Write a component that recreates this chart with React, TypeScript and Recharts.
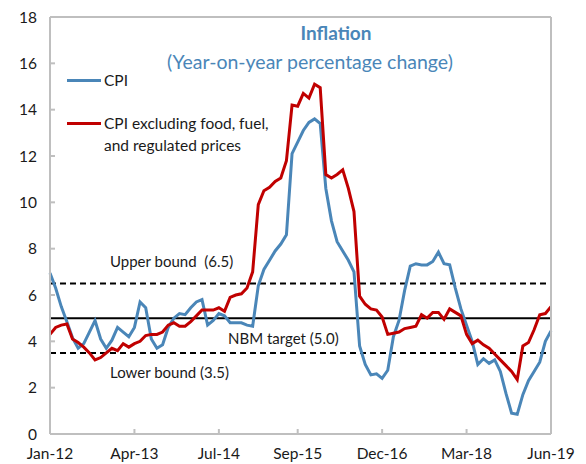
import { LineChart, Line, XAxis, YAxis, ReferenceLine } from "recharts";

// Monthly observations, Jan-12 .. Jun-19 (90 months)
const monthNames = ["Jan", "Feb", "Mar", "Apr", "May", "Jun", "Jul", "Aug", "Sep", "Oct", "Nov", "Dec"];
const months: string[] = [];
for (let k = 0; k < 90; k++) {
  const yr = 12 + Math.floor(k / 12);
  months.push(`${monthNames[k % 12]}-${yr}`);
}

const cpi = [
  6.95, 6.3, 5.5, 4.85, 4.15, 3.7, 3.9, 4.4, 4.9, 4.1, 3.7, 4.05,
  4.6, 4.4, 4.2, 4.6, 5.7, 5.45, 4.1, 3.7, 3.85, 4.6, 5.0, 5.2,
  5.15, 5.45, 5.7, 5.8, 4.7, 4.9, 5.2, 5.1, 4.8, 4.8, 4.8, 4.7,
  4.65, 6.4, 7.1, 7.5, 7.9, 8.2, 8.6, 12.1, 12.6, 13.1, 13.45, 13.6,
  13.4, 10.6, 9.2, 8.3, 7.9, 7.5, 7.0, 3.8, 3.0, 2.55, 2.6, 2.4,
  2.75, 4.2, 4.9, 6.2, 7.25, 7.35, 7.3, 7.3, 7.45, 7.85, 7.35, 7.3,
  6.3, 5.4, 4.7, 4.0, 3.0, 3.25, 3.05, 3.2, 2.7, 1.75, 0.9, 0.85,
  1.7, 2.3, 2.7, 3.1, 4.0, 4.45,
];

const coreCpi = [
  4.3, 4.6, 4.7, 4.75, 4.1, 3.95, 3.75, 3.5, 3.2, 3.3, 3.5, 3.7,
  3.6, 3.9, 3.75, 3.9, 4.0, 4.25, 4.3, 4.3, 4.4, 4.7, 4.8, 4.65,
  4.65, 4.85, 5.1, 5.35, 5.35, 5.35, 5.45, 5.3, 5.9, 6.0, 6.05, 6.3,
  7.0, 9.9, 10.5, 10.65, 10.9, 11.05, 11.8, 14.2, 14.15, 14.7, 14.5, 15.1,
  14.95, 11.2, 11.05, 11.2, 11.4, 10.6, 9.6, 5.95, 5.6, 5.4, 5.35, 5.05,
  4.3, 4.35, 4.4, 4.55, 4.6, 4.65, 5.15, 5.0, 5.25, 5.25, 4.95, 5.4,
  5.25, 5.1, 4.3, 3.9, 4.05, 3.85, 3.7, 3.45, 3.2, 2.95, 2.7, 2.35,
  3.8, 3.95, 4.5, 5.15, 5.2, 5.5,
];

const xTicks = ["Jan-12", "Apr-13", "Jul-14", "Sep-15", "Dec-16", "Mar-18", "Jun-19"];
const yTicks = [0, 2, 4, 6, 8, 10, 12, 14, 16, 18];

const upperBound = 6.5;
const target = 5.0;
const lowerBound = 3.5;

const data = months.map((m, i) => ({ month: m, cpi: cpi[i], core: coreCpi[i] }));

const FONT = "Lato, 'Open Sans', sans-serif";
const BLUE = "#4a86b8";
const RED = "#c00000";
const AXIS = "#bfbfbf";

const tickStyle = { fontSize: 15.5, fill: "#1a1a1a", fontFamily: FONT };

// text placed next to a reference line
const lineLabel = (text: string, dx: number, dy: number) => (props: any) => {
  const { viewBox } = props;
  return (
    <text x={viewBox.x + dx} y={viewBox.y + dy} fontSize={15} fontFamily={FONT} fill="#1a1a1a">
      {text}
    </text>
  );
};

function LegendBox() {
  return (
    <div
      style={{
        position: "absolute",
        left: 67,
        top: 69,
        fontFamily: FONT,
        fontSize: 15.5,
        color: "#1a1a1a",
        lineHeight: "22px",
      }}
    >
      <div style={{ display: "flex", alignItems: "center" }}>
        <span style={{ width: 34, height: 3, background: BLUE, display: "inline-block", marginRight: 3 }} />
        CPI
      </div>
      <div style={{ display: "flex", alignItems: "flex-start", marginTop: 21 }}>
        <span style={{ width: 34, height: 3, background: RED, display: "inline-block", marginRight: 3, marginTop: 10 }} />
        <span>
          CPI excluding food, fuel,
          <br />
          and regulated prices
        </span>
      </div>
    </div>
  );
}

export default function App() {
  return (
    <div style={{ position: "absolute", left: 0, top: 0, width: 586, height: 464, background: "#fff" }}>
      <LineChart width={586} height={464} data={data} margin={{ top: 17, right: 0, bottom: 0, left: 0 }}>
        <XAxis
          dataKey="month"
          ticks={xTicks}
          interval={0}
          height={30}
          tick={tickStyle}
          tickSize={-5}
          tickMargin={19}
          stroke={AXIS}
          strokeWidth={2}
        />
        <YAxis
          yAxisId="left"
          orientation="left"
          domain={[0, 18]}
          ticks={yTicks}
          width={50}
          tick={tickStyle}
          tickSize={-5}
          tickMargin={18}
          stroke={AXIS}
          strokeWidth={2}
        />
        <YAxis
          yAxisId="right"
          orientation="right"
          domain={[0, 18]}
          ticks={yTicks}
          width={35}
          tick={{ ...tickStyle, textAnchor: "start" }}
          tickSize={-5}
          tickMargin={21}
          stroke={AXIS}
          strokeWidth={2}
        />
        <ReferenceLine yAxisId="left" y={18} stroke={AXIS} strokeWidth={2} />
        <ReferenceLine
          yAxisId="left"
          y={upperBound}
          stroke="#000"
          strokeWidth={2}
          strokeDasharray="6 4"
          label={lineLabel("Upper bound\u00a0\u00a0(6.5)", 60, -16)}
        />
        <ReferenceLine
          yAxisId="left"
          y={target}
          stroke="#000"
          strokeWidth={2}
          label={lineLabel("NBM target (5.0)", 178, 26)}
        />
        <ReferenceLine
          yAxisId="left"
          y={lowerBound}
          stroke="#000"
          strokeWidth={2}
          strokeDasharray="6 4"
          label={lineLabel("Lower bound (3.5)", 60, 25)}
        />
        <Line
          yAxisId="left"
          type="linear"
          dataKey="cpi"
          name="CPI"
          stroke={BLUE}
          strokeWidth={3}
          dot={false}
          isAnimationActive={false}
        />
        <Line
          yAxisId="left"
          type="linear"
          dataKey="core"
          name="CPI excluding food, fuel, and regulated prices"
          stroke={RED}
          strokeWidth={3}
          dot={false}
          isAnimationActive={false}
        />
      </LineChart>
      <LegendBox />
      <div
        style={{
          position: "absolute",
          left: 0,
          top: 21,
          width: 672,
          textAlign: "center",
          fontFamily: FONT,
          fontWeight: 700,
          fontSize: 19,
          color: BLUE,
        }}
      >
        Inflation
      </div>
      <div
        style={{
          position: "absolute",
          left: 0,
          top: 50,
          width: 620,
          textAlign: "center",
          fontFamily: FONT,
          fontSize: 19.5,
          color: BLUE,
        }}
      >
        (Year-on-year percentage change)
      </div>
    </div>
  );
}
